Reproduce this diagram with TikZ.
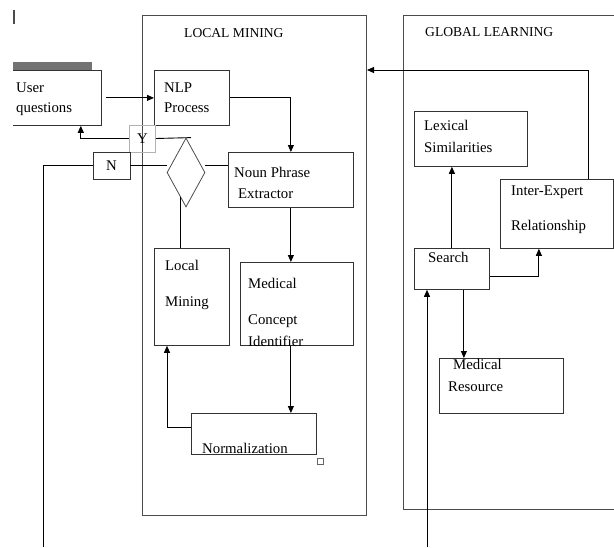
\documentclass[tikz,border=0pt]{standalone}
\usepackage{fontspec}
\setmainfont{Liberation Serif}
\usetikzlibrary{positioning,calc,shapes.geometric,arrows.meta}

\begin{document}
\begin{tikzpicture}[x=1pt,y=-1pt,
  box/.style={draw=black!80,line width=0.8pt,inner sep=0pt,anchor=north west},
  frame/.style={draw=black!70,line width=1pt,inner sep=0pt,anchor=north west},
  txt/.style={inner sep=0pt,anchor=base west,font=\fontsize{14.8}{17}\selectfont},
  ttl/.style={inner sep=0pt,anchor=base west,font=\fontsize{13.6}{16}\selectfont},
  arr/.style={-{Triangle[length=7pt,width=6pt]},line width=0.9pt},
  con/.style={line width=0.9pt}]
\useasboundingbox (0,0) rectangle (614,547);
\begin{scope}
\clip (13,0) rectangle (614,547);
\draw[line width=1.2pt,black!70] (14,10) -- (14,24);
% frames
\node[frame,minimum width=224pt,minimum height=500pt] (LocalFrame) at (142,15) {};
\node[frame,minimum width=240pt,minimum height=494pt] (GlobalFrame) at (403,15) {};
\node[ttl] (LocalTitle) at (184,37) {LOCAL MINING};
\node[ttl] (GlobalTitle) at (425,36) {GLOBAL LEARNING};
% local side
\node[box,minimum width=111pt,minimum height=55pt] (UserQuestions) at (-10,70) {};
\fill[black!55] (13,62) rectangle (92,70);
\node[box,minimum width=75pt,minimum height=55pt] (NLP) at (154,70) {};
\node[box,draw=black!30,anchor=center,minimum width=26pt,minimum height=27pt,font=\fontsize{14.8}{17}\selectfont] (Yes) at (142.5,138.5) {Y};
\node[box,anchor=center,minimum width=37pt,minimum height=27pt,font=\fontsize{14.8}{17}\selectfont] (No) at (111.5,165.5) {N};
\node[diamond,draw=black!70,line width=0.8pt,inner sep=0pt,minimum width=38pt,minimum height=69pt] (Decide) at (186,172.5) {};
\node[box,minimum width=125pt,minimum height=55pt] (NounPhrase) at (228,152) {};
\node[box,minimum width=75pt,minimum height=97pt] (LocalMining) at (154,248) {};
\node[box,minimum width=113pt,minimum height=83pt] (MedicalConcept) at (240,262) {};
\node[box,minimum width=125pt,minimum height=41pt] (Normalization) at (191,413) {};
\node[box,draw=black!60,line width=0.5pt,minimum width=6pt,minimum height=6pt] (Handle) at (317,458) {};
% global side
\node[box,minimum width=113pt,minimum height=55pt] (Lexical) at (414,111) {};
\node[box,minimum width=113pt,minimum height=69pt] (InterExpert) at (500,179) {};
\node[box,minimum width=75pt,minimum height=41pt] (Search) at (414,248) {};
\node[box,minimum width=124pt,minimum height=55pt] (MedicalResource) at (439,358) {};
% texts
\node[txt] (UserA) at (16,92) {User};
\node[txt] (UserB) at (16,112) {questions};
\node[txt] (NLPA) at (164,92) {NLP};
\node[txt] (NLPB) at (164,112) {Process};
\node[txt] (NounA) at (234,177) {Noun Phrase};
\node[txt] (NounB) at (238,198) {Extractor};
\node[txt] (LocalA) at (165,270) {Local};
\node[txt] (LocalB) at (165,306) {Mining};
\node[txt] (ConceptA) at (248,288) {Medical};
\node[txt] (ConceptB) at (248,324) {Concept};
\node[txt] (ConceptC) at (248,346) {Identifier};
\node[txt] (NormA) at (202,453) {Normalization};
\node[txt] (LexA) at (424,130) {Lexical};
\node[txt] (LexB) at (424,152) {Similarities};
\node[txt] (InterA) at (511,195) {Inter-Expert};
\node[txt] (InterB) at (511,230) {Relationship};
\node[txt] (SearchA) at (428,262) {Search};
\node[txt] (ResA) at (453,369) {Medical};
\node[txt] (ResB) at (448,391) {Resource};
% connectors
\coordinate (LeftEnd) at (43,547);
\coordinate (SearchEnd) at (427,547);
\coordinate (DecideFoot) at ($(Decide.south)!0.3!(Decide.west)$);
\draw[arr] ([xshift=4pt]UserQuestions.east) -- (NLP.west);
\draw[arr] (NLP.east) -| (NounPhrase.north);
\draw[arr] (NounPhrase.south) -- (NounPhrase.south |- MedicalConcept.north);
\draw[arr] (NounPhrase.south |- MedicalConcept.south) -- (NounPhrase.south |- Normalization.north);
\draw[arr] ([yshift=6pt]Normalization.west) -| ([xshift=13pt]LocalMining.south west);
\draw[con] (DecideFoot) -- (DecideFoot |- LocalMining.north);
\draw[arr] (Yes.west) -| ([xshift=-21pt]UserQuestions.south east);
\draw[con] (Yes.east) -- ([xshift=5pt]Decide.north);
\draw[con] (No.east) -- (No.east -| Decide.west);
\draw[con] (Decide.east |- No.east) -- (NounPhrase.west |- No.east);
\draw[con] (No.west) -| (LeftEnd);
\draw[arr] (SearchEnd) -- (SearchEnd |- Search.south);
\draw[arr] (Search.north) -- (Search.north |- Lexical.south);
\draw[arr] ([yshift=-7.5pt]Search.east) -| ([xshift=-18pt]InterExpert.south);
\draw[arr] ([xshift=12pt]Search.south) -- ([xshift=12pt]Search.south |- MedicalResource.north);
\draw[arr] ([xshift=32pt]InterExpert.north) |- (LocalFrame.east |- NLP.north);
\end{scope}
\end{tikzpicture}
\end{document}
